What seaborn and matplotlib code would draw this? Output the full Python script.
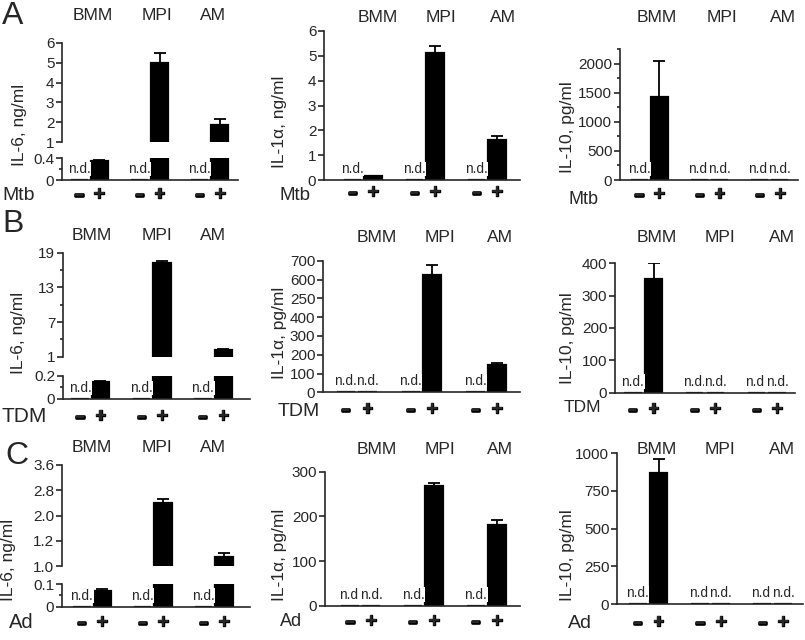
import numpy as np
import pandas as pd
import matplotlib
matplotlib.use("Agg")
import matplotlib.pyplot as plt
import matplotlib.patheffects as pe
import seaborn as sns

# ---------------- data ----------------
cell_types = ["BMM", "MPI", "AM"]
signs = ["\u2013", "+"]
stimuli = ["Mtb", "TDM", "Ad"]
row_letters = ["A", "B", "C"]

# bar order: BMM-, BMM+, MPI-, MPI+, AM-, AM+   (nd = not detected)
il6_mtb = [0, 0.34, 0, 5.0, 0, 1.85]
il6_mtb_err = [0, 0.03, 0, 0.47, 0, 0.30]
il6_mtb_nd = [1, 0, 1, 0, 1, 0]

il1a_mtb = [0, 0.17, 0, 5.1, 0, 1.62]
il1a_mtb_err = [0, 0.01, 0, 0.30, 0, 0.15]
il1a_mtb_nd = [1, 0, 1, 0, 1, 0]

il10_mtb = [0, 1430, 0, 0, 0, 0]
il10_mtb_err = [0, 620, 0, 0, 0, 0]
il10_mtb_nd = [1, 0, 1, 1, 1, 1]

il6_tdm = [0, 0.15, 0, 17.3, 0, 2.15]
il6_tdm_err = [0, 0.005, 0, 0.35, 0, 0.10]
il6_tdm_nd = [1, 0, 1, 0, 1, 0]

il1a_tdm = [0, 0, 0, 625, 0, 145]
il1a_tdm_err = [0, 0, 0, 50, 0, 12]
il1a_tdm_nd = [1, 1, 1, 0, 1, 0]

il10_tdm = [0, 350, 0, 0, 0, 0]
il10_tdm_err = [0, 50, 0, 0, 0, 0]
il10_tdm_nd = [1, 0, 1, 1, 1, 1]

il6_ad = [0, 0.07, 0, 2.39, 0, 0.69]
il6_ad_err = [0, 0.01, 0, 0.13, 0, 0.13]
il6_ad_nd = [1, 0, 1, 0, 1, 0]

il1a_ad = [0, 0, 0, 268, 0, 180]
il1a_ad_err = [0, 0, 0, 6, 0, 11]
il1a_ad_nd = [1, 1, 1, 0, 1, 0]

il10_ad = [0, 870, 0, 0, 0, 0]
il10_ad_err = [0, 90, 0, 0, 0, 0]
il10_ad_nd = [1, 0, 1, 1, 1, 1]

# y-axis labels and ticks
ylab_il6 = "IL-6, ng/ml"
ylab_il1a_ng = "IL-1\u03b1, ng/ml"
ylab_il1a_pg = "IL-1\u03b1, pg/ml"
ylab_il10 = "IL-10, pg/ml"

il6_mtb_upper_ticks = [1, 2, 3, 4, 5, 6]
il6_mtb_lower_ticks = [0, 0.4]
il6_mtb_lower_labels = ["0", "0.4"]
il1a_mtb_ticks = [0, 1, 2, 3, 4, 5, 6]
il10_mtb_ticks = [0, 500, 1000, 1500, 2000]
il6_tdm_upper_ticks = [1, 7, 13, 19]
il6_tdm_lower_ticks = [0, 0.2]
il6_tdm_lower_labels = ["0", "0.2"]
il1a_tdm_ticks = [0, 100, 200, 300, 400, 500, 600, 700]
il1a_tdm_labels = ["0", "100", "200", "300", "400", "250", "600", "700"]
il10_tdm_ticks = [0, 100, 200, 300, 400]
il6_ad_upper_ticks = [0.4, 1.2, 2.0, 2.8, 3.6]
il6_ad_upper_labels = ["1.0", "1.2", "2.0", "2.8", "3.6"]
il6_ad_lower_ticks = [0, 0.1]
il6_ad_lower_labels = ["0", "0.1"]
il1a_ad_ticks = [0, 100, 200, 300]
il10_ad_ticks = [0, 250, 500, 750, 1000]

# ---------------- style ----------------
sns.set_style("ticks")
plt.rcParams["font.family"] = ["Liberation Sans", "DejaVu Sans"]
plt.rcParams["axes.linewidth"] = 1.2

W, H = 805, 640
fig = plt.figure(figsize=(W / 100, H / 100), dpi=100)

positions = np.array([g * 3 + s for g in range(len(cell_types)) for s in range(len(signs))], dtype=float)
sign_style = [dict(fontsize=10.5, stroke=1.9), dict(fontsize=14, stroke=1.0)]


def px_axes(x0, x1, ytop, ybot):
    return fig.add_axes([x0 / W, 1 - ybot / H, (x1 - x0) / W, (ybot - ytop) / H])


def draw_bars(ax, values, errs):
    df = pd.DataFrame({"pos": positions, "value": np.asarray(values, float)})
    sns.barplot(data=df, x="pos", y="value", native_scale=True, color="black",
                saturation=1, edgecolor="black", linewidth=1.6, width=0.85,
                errorbar=None, ax=ax)
    errs = np.asarray(errs, float)
    m = errs > 0
    if m.any():
        vals = np.asarray(values, float)[m]
        ax.errorbar(positions[m], vals, yerr=[np.zeros(m.sum()), errs[m]], fmt="none",
                    ecolor="black", elinewidth=1.3, capsize=4, capthick=1.3, zorder=1)
    ax.set_xlabel("")
    ax.set_ylabel("")


def style_y(ax, ticks, labels=None, minor=None):
    ax.set_yticks(ticks)
    ax.set_yticklabels(labels if labels is not None else [f"{t:g}" for t in ticks])
    if minor is not None:
        ax.set_yticks(minor, minor=True)
    else:
        ax.set_yticks([], minor=True)
    ax.tick_params(axis="y", which="major", length=4, width=1.2, labelsize=11, pad=1.5)
    ax.tick_params(axis="y", which="minor", length=2.5, width=1.2)


def nd_labels(ax, nd):
    for i, (p, f) in enumerate(zip(positions, nd)):
        if f:
            ax.annotate("n.d.", xy=(p, 0), xytext=(0, 3), textcoords="offset points",
                        ha="center", va="bottom", fontsize=9.8, zorder=5 + i,
                        bbox=dict(facecolor="white", edgecolor="none", pad=0.2))


def finish_bottom(ax, xlim, sign_y):
    ax.set_xlim(*xlim)
    ax.set_xticks([])
    sns.despine(ax=ax)
    for k, p in enumerate(positions):
        st = sign_style[k % 2]
        ax.annotate(signs[k % 2], xy=(p, H - sign_y), xycoords=("data", "figure pixels"),
                    ha="center", va="center", fontsize=st["fontsize"], fontweight="bold",
                    annotation_clip=False,
                    path_effects=[pe.withStroke(linewidth=st["stroke"], foreground="black")])


def panel(L, values, errs, nd, ylabel, stim):
    if L["broken"]:
        (ut, ub), (lt, lb) = L["upper"], L["lower"]
        axu = px_axes(L["x0"], L["x1"], ut, ub)
        axl = px_axes(L["x0"], L["x1"], lt, lb)
        for ax in (axu, axl):
            draw_bars(ax, values, errs)
        axu.set_ylim(*L["uylim"])
        axl.set_ylim(*L["lylim"])
        style_y(axu, L["uticks"], L.get("ulabels"), L.get("uminor"))
        style_y(axl, L["lticks"], L.get("llabels"), L.get("lminor"))
        axu.set_xlim(*L["xlim"])
        axu.set_xticks([])
        sns.despine(ax=axu, bottom=True)
        finish_bottom(axl, L["xlim"], L["sign_y"])
        nd_labels(axl, nd)
    else:
        t, b = L["full"]
        ax = px_axes(L["x0"], L["x1"], t, b)
        draw_bars(ax, values, errs)
        ax.set_ylim(*L["ylim"])
        style_y(ax, L["ticks"], L.get("labels"), L.get("minor"))
        finish_bottom(ax, L["xlim"], L["sign_y"])
        nd_labels(ax, nd)
    for name, gx in zip(cell_types, L["glx"]):
        fig.text(gx / W, 1 - L["gly"] / H, name, ha="center", va="center", fontsize=12.5)
    yx, yy = L["ylab"]
    fig.text(yx / W, 1 - yy / H, ylabel, rotation=90, ha="center", va="center", fontsize=12.5)
    sx, sy = L["stim"]
    fig.text(sx / W, 1 - sy / H, stim, ha="left", va="center", fontsize=L["stim_fs"])


layouts = {
    "A1": dict(broken=True, x0=62, x1=238, upper=(43, 142), lower=(158, 180), uylim=(1, 6), lylim=(0, 0.4),
               uticks=il6_mtb_upper_ticks, lticks=il6_mtb_lower_ticks, llabels=il6_mtb_lower_labels,
               lminor=[0.2], xlim=(-0.85, 7.9), glx=[93, 157, 213], gly=15, ylab=(20, 125),
               stim=(2, 196), stim_fs=14, sign_y=195),
    "A2": dict(broken=False, x0=324, x1=520, full=(31, 180), ylim=(0, 6), ticks=il1a_mtb_ticks,
               xlim=(-1.38, 8.1), glx=[378, 441, 503], gly=18, ylab=(279, 122), stim=(279, 195),
               stim_fs=13.5, sign_y=193),
    "A3": dict(broken=False, x0=620, x1=798, full=(49, 180), ylim=(0, 2250), ticks=il10_mtb_ticks,
               minor=[250, 750, 1250, 1750, 2250], xlim=(-0.95, 7.9), glx=[657, 722, 783], gly=18,
               ylab=(567, 127), stim=(568, 200), stim_fs=13, sign_y=195),
    "B1": dict(broken=True, x0=63, x1=250, upper=(252.7, 356.7), lower=(375.7, 399), uylim=(1, 19),
               lylim=(0, 0.2), uticks=il6_tdm_upper_ticks, uminor=[4, 10, 16], lticks=il6_tdm_lower_ticks,
               llabels=il6_tdm_lower_labels, lminor=[0.1], xlim=(-0.83, 8.3), glx=[92, 157, 213], gly=235,
               ylab=(18, 333), stim=(1, 417), stim_fs=15, sign_y=417),
    "B2": dict(broken=False, x0=323, x1=520, full=(260.7, 392.3), ylim=(0, 700), ticks=il1a_tdm_ticks,
               labels=il1a_tdm_labels, xlim=(-1.06, 8.06), glx=[377, 440, 500], gly=238, ylab=(279, 333),
               stim=(278, 411), stim_fs=14, sign_y=410),
    "B3": dict(broken=False, x0=615, x1=795, full=(263.3, 392.7), ylim=(0, 400), ticks=il10_tdm_ticks,
               xlim=(-0.87, 7.87), glx=[657, 720, 782], gly=238, ylab=(567, 338), stim=(564, 407),
               stim_fs=12.5, sign_y=410),
    "C1": dict(broken=True, x0=62, x1=250, upper=(465, 566), lower=(584, 606.7), uylim=(0.4, 3.6),
               lylim=(0, 0.1), uticks=il6_ad_upper_ticks, ulabels=il6_ad_upper_labels,
               lticks=il6_ad_lower_ticks, llabels=il6_ad_lower_labels, lminor=[0.05], xlim=(-0.98, 8.28),
               glx=[92, 157, 213], gly=447, ylab=(9, 560), stim=(9, 623), stim_fs=14.5, sign_y=623),
    "C2": dict(broken=False, x0=325, x1=520, full=(471.7, 605.7), ylim=(0, 300), ticks=il1a_ad_ticks,
               xlim=(-1.19, 8.1), glx=[377, 440, 500], gly=450, ylab=(279, 555), stim=(280, 622),
               stim_fs=13, sign_y=622),
    "C3": dict(broken=False, x0=617, x1=803, full=(453.3, 604), ylim=(0, 1000), ticks=il10_ad_ticks,
               xlim=(-1.0, 7.96), glx=[657, 720, 782], gly=449, ylab=(567, 555), stim=(568, 623),
               stim_fs=14, sign_y=623),
}

panel(layouts["A1"], il6_mtb, il6_mtb_err, il6_mtb_nd, ylab_il6, stimuli[0])
panel(layouts["A2"], il1a_mtb, il1a_mtb_err, il1a_mtb_nd, ylab_il1a_ng, stimuli[0])
panel(layouts["A3"], il10_mtb, il10_mtb_err, il10_mtb_nd, ylab_il10, stimuli[0])
panel(layouts["B1"], il6_tdm, il6_tdm_err, il6_tdm_nd, ylab_il6, stimuli[1])
panel(layouts["B2"], il1a_tdm, il1a_tdm_err, il1a_tdm_nd, ylab_il1a_pg, stimuli[1])
panel(layouts["B3"], il10_tdm, il10_tdm_err, il10_tdm_nd, ylab_il10, stimuli[1])
panel(layouts["C1"], il6_ad, il6_ad_err, il6_ad_nd, ylab_il6, stimuli[2])
panel(layouts["C2"], il1a_ad, il1a_ad_err, il1a_ad_nd, ylab_il1a_pg, stimuli[2])
panel(layouts["C3"], il10_ad, il10_ad_err, il10_ad_nd, ylab_il10, stimuli[2])

for letter, (lx, ly) in zip(row_letters, [(2, 16), (2, 224), (5, 456)]):
    fig.text(lx / W, 1 - ly / H, letter, ha="left", va="center", fontsize=23)

fig.savefig("out.png", dpi=100)
